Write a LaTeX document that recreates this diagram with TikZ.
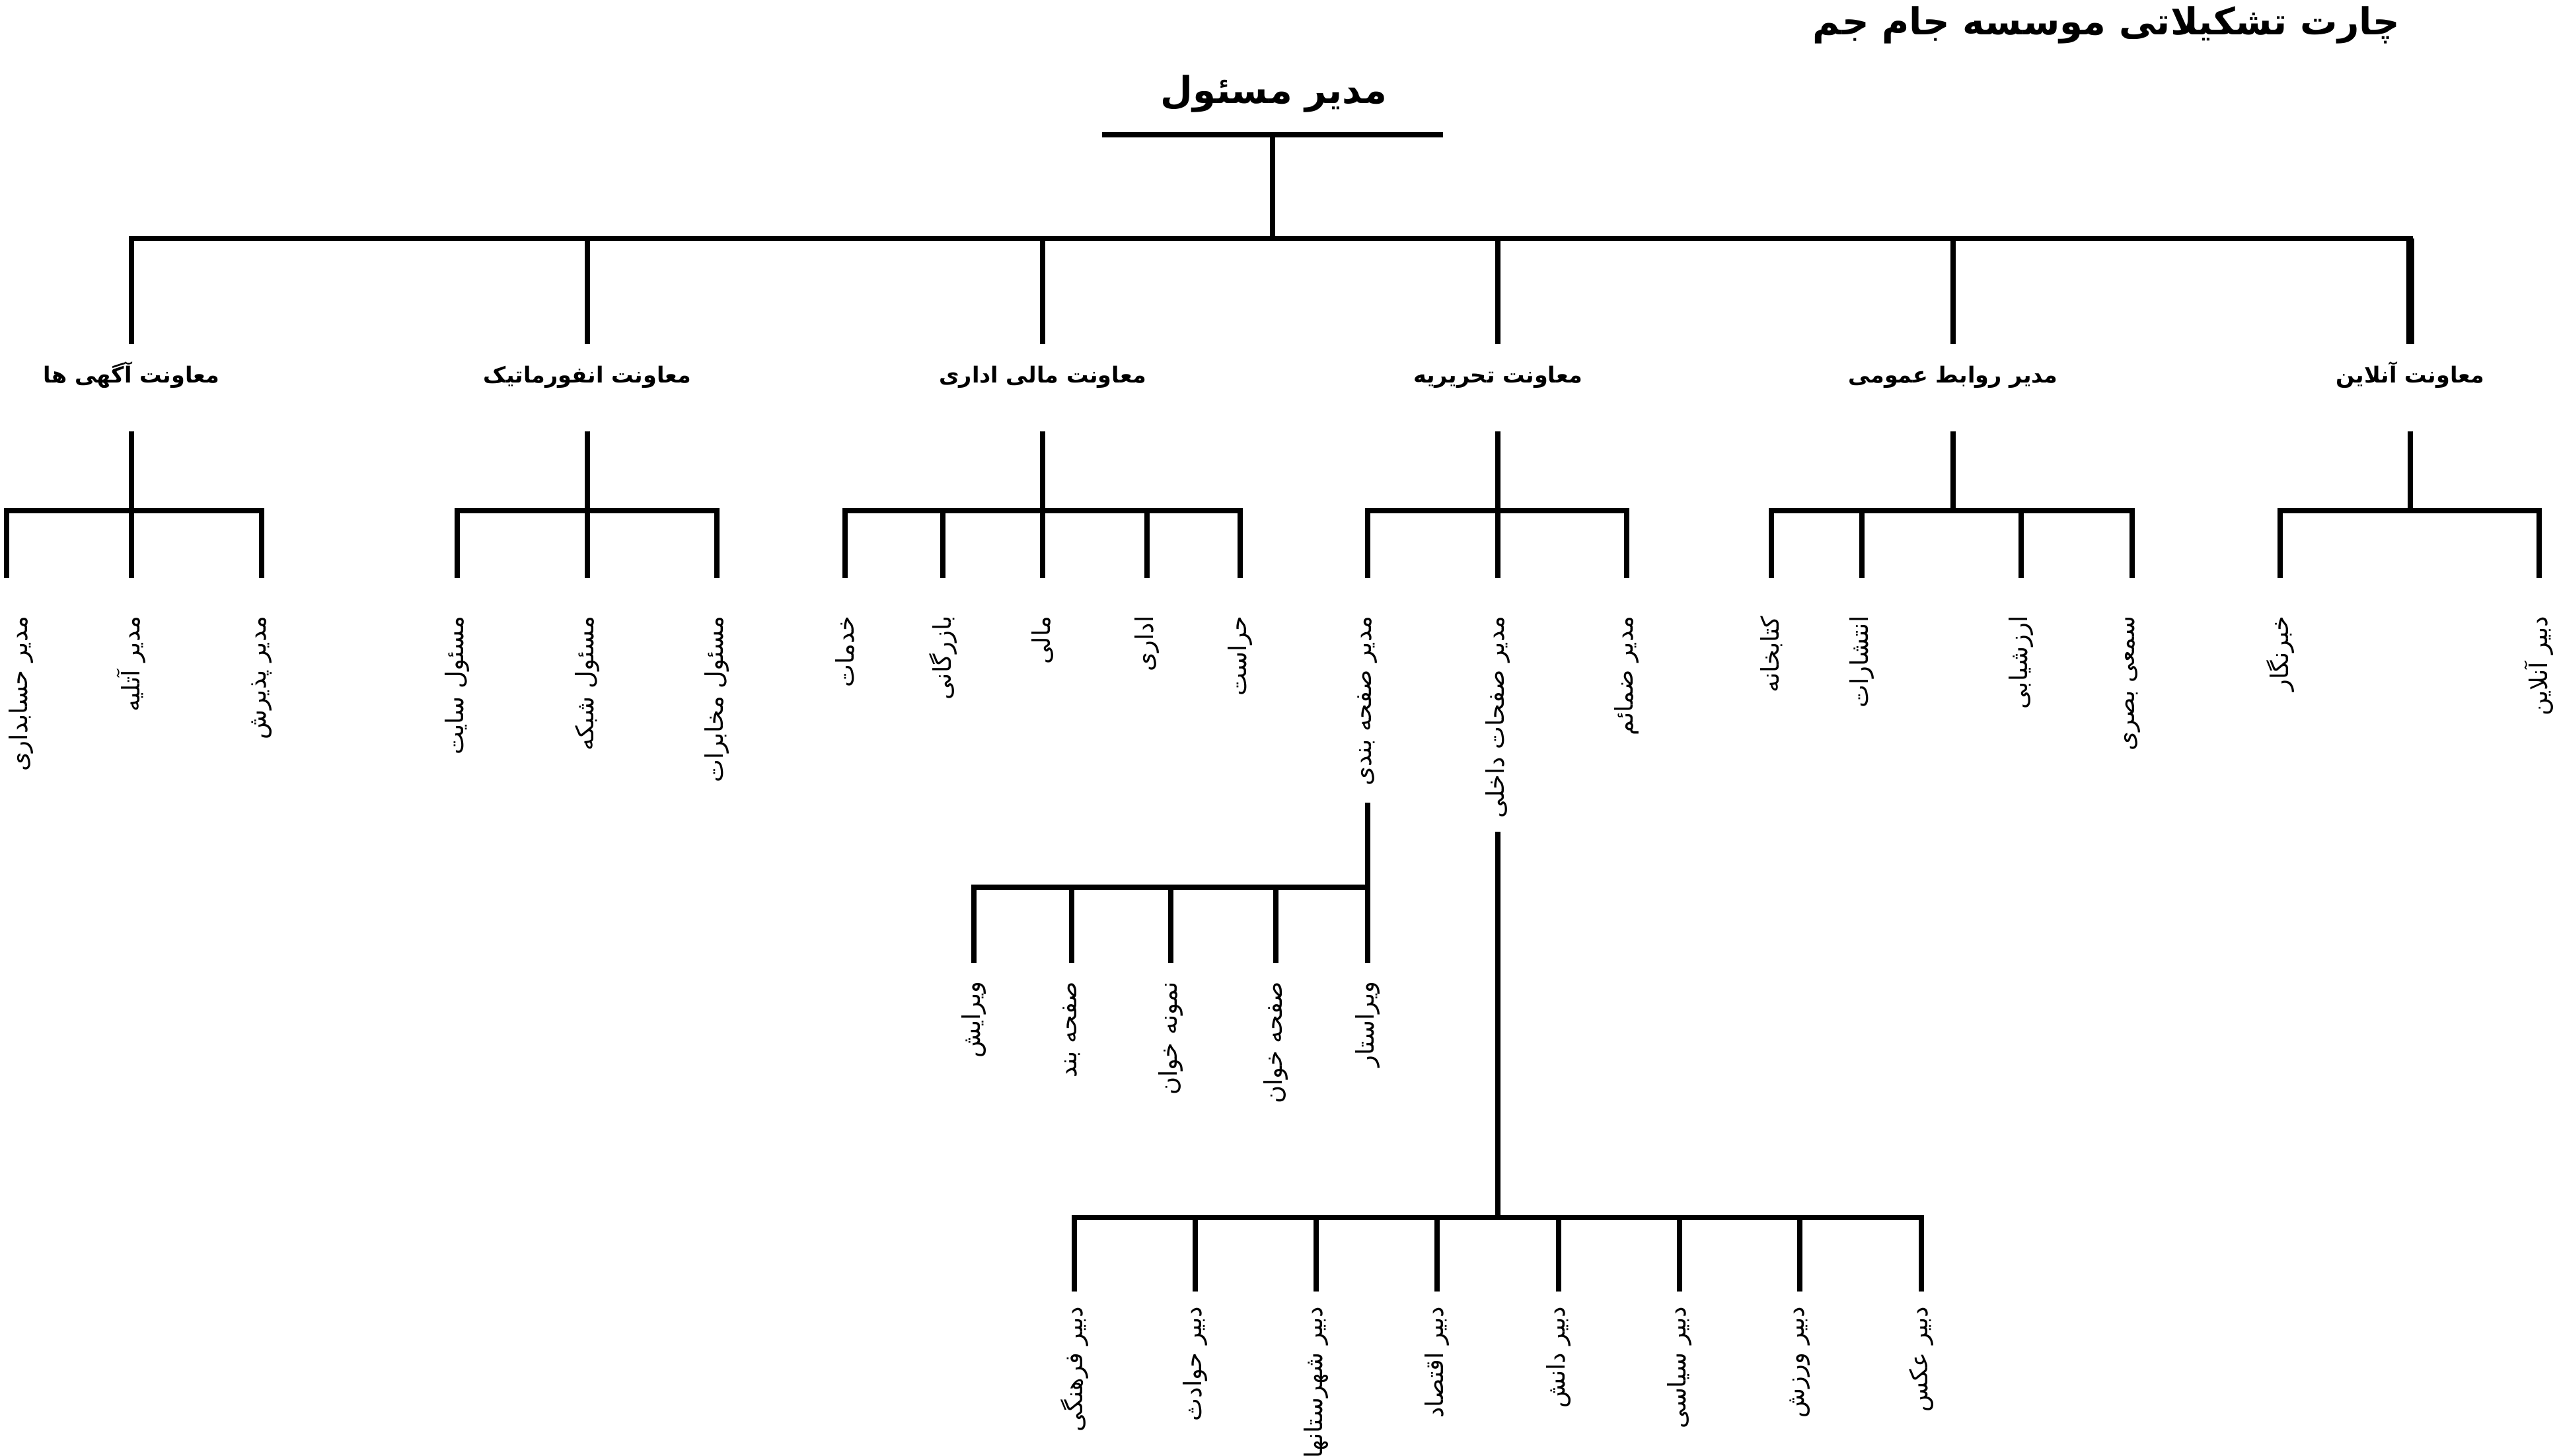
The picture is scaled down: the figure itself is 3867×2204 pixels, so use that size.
\documentclass[tikz,border=0pt]{standalone}
\usepackage{fontspec}
\newfontfamily\farsi[Script=Arabic]{DejaVu Sans}
\TeXXeTstate=1
\usepackage{tikz}
\newcommand{\fa}[1]{\beginR#1\endR}

\begin{document}
\begin{tikzpicture} [
    x=0.01cm, y=-0.01cm,
    headline/.style={font={\farsi\bfseries\fontsize{16}{19}\selectfont}, inner sep=0pt},
    boss/.style={font={\farsi\bfseries\fontsize{16}{19}\selectfont}, inner sep=0pt},
    vice/.style={font={\farsi\bfseries\fontsize{9.5}{12}\selectfont}, inner sep=0pt, anchor=base, text height=0.28cm, text depth=0.12cm},
    leaf/.style={font={\farsi\fontsize{10.5}{12}\selectfont}, inner sep=0pt, rotate=90, anchor=east},
    bar/.style={line width=2.4pt, line cap=rect},
    wire/.style={line width=2.4pt},
    ]
    \fill[white] (0,0) rectangle (3867,2204);
    \useasboundingbox (0,0) rectangle (3867,2204);

    %Nodes
    \node[headline]  (title)   at (3188,38)  {\fa{چارت تشکیلاتی موسسه جام جم}};
    \node[boss]      (ceo)     at (1928,142) {\fa{مدیر مسئول}};

    \node[vice]      (vads)    at (199,580)  {\fa{معاونت آگهی ها}};
    \node[vice]      (vinfo)   at (889,580)  {\fa{معاونت انفورماتیک}};
    \node[vice]      (vfin)    at (1578,580) {\fa{معاونت مالی اداری}};
    \node[vice]      (vedit)   at (2267,580) {\fa{معاونت تحریریه}};
    \node[vice]      (vpr)     at (2956,580) {\fa{مدیر روابط عمومی}};
    \node[vice]      (vonl)    at (3648,580) {\fa{معاونت آنلاین}};

    \node[leaf]      (acc)     at (32,932)   {\fa{مدیر حسابداری}};
    \node[leaf]      (atelier) at (199,932)  {\fa{مدیر آتلیه}};
    \node[leaf]      (recep)   at (396,932)  {\fa{مدیر پذیرش}};
    \node[leaf]      (site)    at (692,932)  {\fa{مسئول سایت}};
    \node[leaf]      (net)     at (889,932)  {\fa{مسئول شبکه}};
    \node[leaf]      (telecom) at (1085,932) {\fa{مسئول مخابرات}};
    \node[leaf]      (service) at (1279,932) {\fa{خدمات}};
    \node[leaf]      (trade)   at (1427,932) {\fa{بازرگانی}};
    \node[leaf]      (money)   at (1578,932) {\fa{مالی}};
    \node[leaf]      (admin)   at (1736,932) {\fa{اداری}};
    \node[leaf]      (guard)   at (1877,932) {\fa{حراست}};
    \node[leaf]      (layout)  at (2070,932) {\fa{مدیر صفحه بندی}};
    \node[leaf]      (inner)   at (2267,932) {\fa{مدیر صفحات داخلی}};
    \node[leaf]      (annex)   at (2462,932) {\fa{مدیر ضمائم}};
    \node[leaf]      (library) at (2681,932) {\fa{کتابخانه}};
    \node[leaf]      (publish) at (2818,932) {\fa{انتشارات}};
    \node[leaf]      (assess)  at (3059,932) {\fa{ارزشیابی}};
    \node[leaf]      (av)      at (3227,932) {\fa{سمعی بصری}};
    \node[leaf]      (report)  at (3451,932) {\fa{خبرنگار}};
    \node[leaf]      (webed)   at (3843,932) {\fa{دبیر آنلاین}};

    \node[leaf]      (edit)    at (1474,1485) {\fa{ویرایش}};
    \node[leaf]      (pgset)   at (1622,1485) {\fa{صفحه بند}};
    \node[leaf]      (proof)   at (1772,1485) {\fa{نمونه خوان}};
    \node[leaf]      (pgread)  at (1931,1485) {\fa{صفحه خوان}};
    \node[leaf]      (copyed)  at (2070,1485) {\fa{ویراستار}};

    \node[leaf]      (culture) at (1626,1977) {\fa{دبیر فرهنگی}};
    \node[leaf]      (crime)   at (1809,1977) {\fa{دبیر حوادث}};
    \node[leaf]      (cities)  at (1992,1977) {\fa{دبیر شهرستانها}};
    \node[leaf]      (econ)    at (2175,1977) {\fa{دبیر اقتصاد}};
    \node[leaf]      (science) at (2359,1977) {\fa{دبیر دانش}};
    \node[leaf]      (politic) at (2542,1977) {\fa{دبیر سیاسی}};
    \node[leaf]      (sport)   at (2724,1977) {\fa{دبیر ورزش}};
    \node[leaf]      (photo)   at (2908,1977) {\fa{دبیر عکس}};

    %Junctions
    \coordinate (ceoL) at (1672,204);
    \coordinate (ceoR) at (2180,204);
    \coordinate (ceoS) at (1926,204);
    \coordinate (top)  at (1926,361);
    \coordinate (ads-up)  at (199,361);
    \coordinate (info-up) at (889,361);
    \coordinate (fin-up)  at (1578,361);
    \coordinate (edit-up) at (2267,361);
    \coordinate (pr-up)   at (2956,361);
    \coordinate (onl-up)  at (3648,361);

    \coordinate (ads-a) at (10,773);    \coordinate (ads-b) at (199,773);   \coordinate (ads-c) at (396,773);
    \coordinate (info-a) at (692,773);  \coordinate (info-b) at (889,773);  \coordinate (info-c) at (1085,773);
    \coordinate (fin-a) at (1279,773);  \coordinate (fin-b) at (1427,773);  \coordinate (fin-c) at (1578,773);
    \coordinate (fin-d) at (1736,773);  \coordinate (fin-e) at (1877,773);
    \coordinate (edit-a) at (2070,773); \coordinate (edit-b) at (2267,773); \coordinate (edit-c) at (2462,773);
    \coordinate (pr-a) at (2681,773);   \coordinate (pr-b) at (2818,773);   \coordinate (pr-s) at (2956,773);
    \coordinate (pr-c) at (3059,773);   \coordinate (pr-d) at (3227,773);
    \coordinate (onl-a) at (3451,773);  \coordinate (onl-s) at (3648,773);  \coordinate (onl-b) at (3843,773);

    \coordinate (lay-a) at (1474,1343); \coordinate (lay-b) at (1622,1343); \coordinate (lay-c) at (1772,1343);
    \coordinate (lay-d) at (1931,1343); \coordinate (lay-e) at (2070,1343);

    \coordinate (in-a) at (1626,1843);  \coordinate (in-b) at (1809,1843);  \coordinate (in-c) at (1992,1843);
    \coordinate (in-d) at (2175,1843);  \coordinate (in-s) at (2267,1843);  \coordinate (in-e) at (2359,1843);
    \coordinate (in-f) at (2542,1843);  \coordinate (in-g) at (2724,1843);  \coordinate (in-h) at (2908,1843);

    %Lines
    \draw[bar] (ceoL) -- (ceoR);
    \draw[wire] (ceoS) -- (top);
    \draw[bar] (ads-up) -- (onl-up);

    \draw[wire, shorten >=0.3cm] (ads-up) -- (vads.north);
    \draw[wire, shorten >=0.3cm] (info-up) -- (vinfo.north);
    \draw[wire, shorten >=0.3cm] (fin-up) -- (vfin.north);
    \draw[wire, shorten >=0.3cm] (edit-up) -- (vedit.north);
    \draw[wire, shorten >=0.3cm] (pr-up) -- (vpr.north);
    \draw[wire, line width=3.3pt, shorten >=0.3cm] (onl-up) -- (vonl.north);

    \draw[wire, shorten <=0.6cm] (vads.south) -- (ads-b);
    \draw[wire, shorten <=0.6cm] (vinfo.south) -- (info-b);
    \draw[wire, shorten <=0.6cm] (vfin.south) -- (fin-c);
    \draw[wire, shorten <=0.6cm] (vedit.south) -- (edit-b);
    \draw[wire, shorten <=0.6cm] (vpr.south) -- (pr-s);
    \draw[wire, shorten <=0.6cm] (vonl.south) -- (onl-s);

    \draw[bar] (ads-a) -- (ads-c);
    \draw[bar] (info-a) -- (info-c);
    \draw[bar] (fin-a) -- (fin-e);
    \draw[bar] (edit-a) -- (edit-c);
    \draw[bar] (pr-a) -- (pr-d);
    \draw[bar] (onl-a) -- (onl-b);

    \draw[wire, shorten >=0.57cm] (ads-a) -- (ads-a |- acc.east);
    \draw[wire, shorten >=0.57cm] (ads-b) -- (atelier.east);
    \draw[wire, shorten >=0.57cm] (ads-c) -- (recep.east);
    \draw[wire, shorten >=0.57cm] (info-a) -- (site.east);
    \draw[wire, shorten >=0.57cm] (info-b) -- (net.east);
    \draw[wire, shorten >=0.57cm] (info-c) -- (telecom.east);
    \draw[wire, shorten >=0.57cm] (fin-a) -- (service.east);
    \draw[wire, shorten >=0.57cm] (fin-b) -- (trade.east);
    \draw[wire, shorten >=0.57cm] (fin-c) -- (money.east);
    \draw[wire, shorten >=0.57cm] (fin-d) -- (admin.east);
    \draw[wire, shorten >=0.57cm] (fin-e) -- (guard.east);
    \draw[wire, shorten >=0.57cm] (edit-a) -- (layout.east);
    \draw[wire, shorten >=0.57cm] (edit-b) -- (inner.east);
    \draw[wire, shorten >=0.57cm] (edit-c) -- (annex.east);
    \draw[wire, shorten >=0.57cm] (pr-a) -- (library.east);
    \draw[wire, shorten >=0.57cm] (pr-b) -- (publish.east);
    \draw[wire, shorten >=0.57cm] (pr-c) -- (assess.east);
    \draw[wire, shorten >=0.57cm] (pr-d) -- (av.east);
    \draw[wire, shorten >=0.57cm] (onl-a) -- (report.east);
    \draw[wire, shorten >=0.57cm] (onl-b) -- (webed.east);

    \draw[wire, shorten <=0.25cm] (layout.west) -- (lay-e);
    \draw[bar] (lay-a) -- (lay-e);
    \draw[wire, shorten >=0.27cm] (lay-a) -- (edit.east);
    \draw[wire, shorten >=0.27cm] (lay-b) -- (pgset.east);
    \draw[wire, shorten >=0.27cm] (lay-c) -- (proof.east);
    \draw[wire, shorten >=0.27cm] (lay-d) -- (pgread.east);
    \draw[wire, shorten >=0.27cm] (lay-e) -- (copyed.east);

    \draw[wire, shorten <=0.2cm] (inner.west) -- (in-s);
    \draw[bar] (in-a) -- (in-h);
    \draw[wire, shorten >=0.22cm] (in-a) -- (culture.east);
    \draw[wire, shorten >=0.22cm] (in-b) -- (crime.east);
    \draw[wire, shorten >=0.22cm] (in-c) -- (cities.east);
    \draw[wire, shorten >=0.22cm] (in-d) -- (econ.east);
    \draw[wire, shorten >=0.22cm] (in-e) -- (science.east);
    \draw[wire, shorten >=0.22cm] (in-f) -- (politic.east);
    \draw[wire, shorten >=0.22cm] (in-g) -- (sport.east);
    \draw[wire, shorten >=0.22cm] (in-h) -- (photo.east);
\end{tikzpicture}
\end{document}
